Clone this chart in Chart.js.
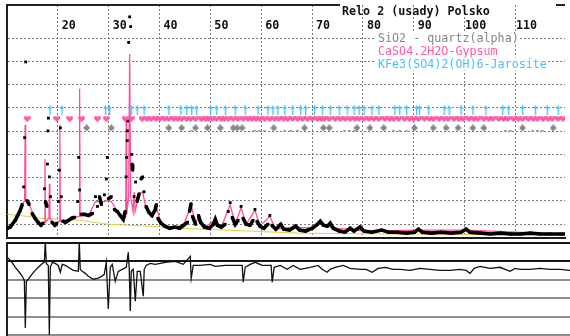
<!DOCTYPE html>
<html>
<head>
<meta charset="utf-8">
<script src="https://cdn.jsdelivr.net/npm/chart.js@4.4.1/dist/chart.umd.min.js"></script>
<style>
  html, body { margin: 0; padding: 0; background: #fff; overflow: hidden; }
  #wrap { position: relative; width: 570px; height: 336px; }
  #main { position: absolute; left: 0; top: 0; }
  #diff { position: absolute; left: 0; top: 242px; }
</style>
</head>
<body>
<div id="wrap">
  <canvas id="main" width="570" height="243"></canvas>
  <canvas id="diff" width="570" height="94"></canvas>
</div>
<script>
// ---- Rietveld fit: Relo 2 (usady) Polsko ----
const plotTitle = 'Relo 2 (usady) Polsko';
const xTickValues = [20, 30, 40, 50, 60, 70, 80, 90, 100, 110];
const intensityGrid = [600, 1600, 2600, 3600, 4600, 5600, 6600, 7600, 8600];
const diffGrid = [-4000, -3000, -2000, -1000, 0, 1000];

// observed pattern (2theta, counts)
const obsTheta = [
  10.06, 10.65, 11.04, 11.62, 12.01, 12.60, 12.99, 13.28, 13.47, 13.67,
  13.96, 14.35, 14.93, 15.52, 16.10, 16.69, 17.08, 17.37, 17.56, 17.86,
  17.95, 18.05, 18.15, 18.34, 18.54, 18.83, 19.41, 19.80, 20.10, 20.29,
  20.49, 20.68, 20.97, 21.56, 22.14, 22.73, 23.31, 23.90, 24.09, 24.28,
  24.58, 25.26, 26.04, 26.82, 27.40, 27.79, 28.18, 28.57, 29.15, 29.54,
  29.74, 29.93, 30.52, 31.10, 31.69, 32.27, 32.86, 33.25, 33.44, 33.54,
  33.64, 33.69, 33.73, 33.93, 34.12, 34.32, 34.51, 34.61, 34.71, 35.00,
  35.29, 35.58, 35.97, 36.36, 36.66, 36.95, 37.34, 37.92, 38.51, 39.09,
  39.38, 39.67, 40.26, 41.04, 42.01, 42.99, 43.96, 44.74, 45.52, 45.91,
  46.20, 46.49, 47.08, 47.66, 48.05, 48.83, 49.80, 50.58, 50.97, 51.36,
  52.14, 52.92, 53.51, 53.90, 54.29, 54.87, 55.45, 56.04, 56.43, 57.01,
  57.79, 58.38, 58.77, 59.16, 59.74, 60.52, 61.30, 61.69, 62.08, 62.86,
  63.83, 64.42, 65.58, 66.75, 67.53, 68.70, 70.06, 71.04, 71.62, 72.21,
  72.99, 73.57, 74.16, 75.33, 76.49, 77.47, 78.25, 79.42, 80.20, 81.75,
  83.70, 85.06, 86.62, 88.57, 90.13, 90.91, 91.69, 93.44, 95.39, 97.34,
  99.29, 100.26, 101.04, 103.18, 105.13, 107.08, 109.03, 110.98, 112.92, 114.87,
  116.82, 118.77, 119.74
];
const obsCounts = [
  420, 470, 590, 760, 930, 1190, 1440, 2200, 4320, 7580,
  1610, 1440, 1060, 850, 680, 550, 640, 2120, 1570, 1360,
  3180, 4610, 5160, 2630, 1780, 680, 550, 640, 1570, 2920,
  4740, 1780, 720, 680, 760, 850, 890, 1570, 3470, 2070,
  1020, 1020, 970, 1060, 1780, 1360, 1780, 1440, 1860, 2540,
  3470, 1690, 1780, 1230, 1140, 970, 800, 1140, 2630, 3470,
  4190, 4610, 5040, 8420, 9520, 9100, 3600, 3180, 2920, 1780,
  2410, 1570, 1900, 2540, 2630, 1990, 1360, 1100, 970, 1190,
  1440, 850, 640, 510, 420, 470, 420, 550, 680, 1140,
  1480, 930, 590, 970, 680, 470, 420, 590, 800, 550,
  470, 590, 1140, 1520, 890, 590, 760, 1360, 850, 590,
  550, 760, 1230, 720, 510, 420, 590, 970, 550, 380,
  590, 380, 340, 510, 340, 300, 420, 590, 720, 550,
  510, 640, 420, 300, 250, 420, 300, 470, 300, 250,
  340, 250, 250, 210, 250, 380, 250, 210, 250, 210,
  250, 380, 250, 210, 170, 210, 170, 170, 210, 170,
  170, 170, 170
];

// calculated profile
const calcTheta = [
  10.06, 11.04, 12.01, 12.99, 13.47, 13.57, 13.67, 14.35, 15.52, 16.69,
  17.37, 17.47, 17.56, 18.25, 18.34, 18.44, 19.41, 20.29, 20.39, 20.49,
  21.56, 22.73, 24.19, 24.28, 24.38, 26.04, 27.40, 28.18, 29.15, 29.74,
  30.52, 31.69, 32.86, 33.34, 33.44, 33.54, 33.93, 34.12, 34.32, 34.80,
  35.00, 35.19, 35.97, 36.66, 37.34, 38.51, 39.38, 40.26, 42.01, 44.74,
  46.20, 47.08, 47.66, 48.83, 50.97, 52.14, 53.90, 54.87, 56.04, 57.01,
  58.77, 59.74, 61.69, 62.86, 66.75, 70.06, 71.62, 74.16, 77.47, 80.20,
  90.91, 100.26, 119.74
];
const calcCounts = [
  420, 590, 930, 1440, 1610, 4870, 1610, 1440, 850, 550,
  680, 3390, 680, 850, 2330, 850, 550, 720, 4870, 720,
  680, 850, 930, 6430, 930, 970, 1570, 1570, 1570, 1610,
  1570, 1140, 800, 930, 5040, 1020, 1780, 7920, 1780, 1140,
  1990, 1140, 1900, 1990, 1270, 970, 1360, 640, 420, 550,
  1440, 590, 930, 470, 760, 470, 1440, 590, 1310, 590,
  1190, 510, 930, 380, 470, 420, 680, 420, 380, 300,
  340, 340, 170
];

// refined background
const bgTheta = [10.06, 12.60, 16.49, 24.28, 30.13, 37.92, 43.77, 57.40, 67.14, 86.62, 119.74];
const bgCounts = [1020, 970, 850, 760, 590, 510, 420, 300, 210, 170, 130];

// difference curve (calc - obs)
const diffTheta = [
  10.06, 10.84, 11.62, 12.40, 12.99, 13.38, 13.57, 13.77, 14.15, 14.54,
  15.32, 16.10, 16.88, 17.27, 17.47, 17.66, 18.05, 18.25, 18.44, 18.83,
  19.41, 20.00, 20.39, 20.78, 21.36, 21.95, 22.92, 23.90, 24.09, 24.28,
  24.67, 25.26, 25.84, 26.82, 27.60, 28.18, 28.96, 29.35, 29.74, 30.13,
  30.52, 31.10, 31.69, 32.47, 33.25, 33.64, 33.83, 34.03, 34.22, 34.61,
  35.00, 35.39, 35.97, 36.56, 36.75, 37.14, 37.92, 38.90, 39.87, 40.84,
  42.79, 44.35, 45.71, 45.91, 46.30, 47.66, 49.61, 50.58, 52.53, 54.48,
  55.84, 56.04, 56.43, 57.40, 58.38, 59.74, 61.49, 61.69, 62.08, 63.25,
  64.61, 65.78, 67.14, 69.09, 70.65, 71.43, 72.40, 72.99, 73.96, 75.52,
  76.88, 78.83, 80.00, 81.17, 82.34, 83.70, 85.26, 86.62, 88.57, 90.52,
  92.47, 94.42, 96.37, 98.31, 99.48, 100.26, 101.04, 102.21, 104.16, 106.11,
  108.05, 109.03, 110.00, 111.95, 113.90, 115.85, 117.79, 119.74
];
const diffCounts = [
  220, 0, -320, -590, -810, -1030, -3620, -1080, -970, -810,
  -540, -320, -110, -50, 1080, -110, -220, -4000, -320, -50,
  -110, -220, -590, -160, -220, -320, -490, -540, 1080, -430,
  -540, -650, -810, -970, -920, -860, -700, -50, -2590, -320,
  -160, -1080, -540, -430, -320, 490, -430, -2700, -540, -430,
  -2160, -540, -540, -1890, -430, -220, -110, -160, -110, -50,
  0, -160, 270, -920, -220, -220, -160, -270, -220, -220,
  -220, -1130, -320, -160, -50, -220, -220, -1130, -320, -220,
  -430, -220, -430, -320, -220, -430, -590, -430, -320, -220,
  -380, -430, -430, -590, -380, -320, -430, -430, -490, -380,
  -430, -490, -490, -430, -490, -650, -380, -270, -380, -320,
  -540, -380, -430, -430, -380, -430, -430, -490
];

// reflection positions of each phase (2theta)
const jarositePeaks = [
  18.44, 20.78, 29.35, 30.13, 34.42, 35.58, 36.95, 41.82, 44.16, 45.32,
  46.30, 47.27, 50.00, 51.17, 52.92, 54.87, 56.82, 59.35, 61.30, 62.27,
  63.25, 64.61, 66.17, 67.73, 68.70, 70.46, 72.01, 73.57, 75.33, 76.88,
  78.25, 79.22, 80.20, 81.75, 83.12, 86.24, 87.21, 88.57, 90.52, 91.11,
  92.86, 95.98, 96.95, 99.29, 101.62, 104.16, 107.47, 108.64, 111.37, 113.90,
  116.24, 118.38
];
const gypsumPeaks = [
  13.96, 19.80, 22.34, 24.67, 27.79, 29.54, 33.25, 34.42, 36.56, 37.53,
  38.31, 39.29, 40.06, 41.04, 41.82, 42.79, 43.57, 44.35, 45.32, 46.10,
  47.08, 48.25, 49.03, 49.61, 50.39, 51.17, 52.14, 52.73, 53.51, 54.48,
  55.45, 56.43, 57.40, 58.18, 58.96, 59.74, 60.71, 61.69, 62.66, 63.44,
  64.42, 65.19, 66.17, 67.14, 68.12, 69.09, 70.07, 71.04, 71.82, 72.40,
  73.38, 74.55, 75.52, 76.49, 77.47, 78.44, 79.22, 80.20, 81.17, 82.14,
  83.12, 84.29, 85.26, 86.04, 87.01, 88.18, 89.16, 89.94, 90.91, 92.08,
  93.05, 93.83, 95.00, 95.97, 96.75, 97.92, 98.90, 99.68, 100.85, 101.82,
  102.60, 103.77, 104.74, 105.52, 106.69, 107.66, 108.44, 109.61, 110.59, 111.36,
  112.53, 113.51, 114.29, 115.46, 116.43, 117.21, 118.38, 119.35
];
const quartzPeaks = [
  25.65, 30.52, 41.82, 44.35, 47.08, 49.42, 51.95, 54.48, 55.26, 56.23,
  62.47, 68.51, 72.21, 73.38, 78.83, 81.37, 84.09, 90.13, 93.83, 96.36,
  98.70, 101.62, 103.77, 111.37, 117.41
];
const quartzWeakPeaks = [
  46.30, 58.77, 59.74, 60.71, 64.61, 65.78, 67.14, 76.30, 77.27, 78.25,
  86.04, 87.21, 88.57, 108.05, 109.03, 113.31, 114.29, 115.26
];

const phaseNames = ['SiO2 - quartz(alpha)', 'CaSO4.2H2O-Gypsum', 'KFe3(SO4)2(OH)6-Jarosite'];
const phaseColors = ['#858585', '#ff5aa5', '#45c0ff'];
// marker row of each phase under the title block
const phaseRow = { jarosite: 0, gypsum: 1, quartz: 2 };

const pts = (xs, ys) => xs.map((x, i) => ({ x: x, y: ys[i] }));
const rowPts = (xs, row) => xs.map(x => ({ x: x, y: row }));

// small marker glyphs
function glyph(w, h, paint) {
  const c = document.createElement('canvas');
  c.width = w; c.height = h;
  paint(c.getContext('2d'));
  return c;
}
const arrowGlyph = glyph(5, 10, g => {
  g.fillStyle = phaseColors[2];
  g.beginPath(); g.moveTo(2.5, 0); g.lineTo(5, 3.5); g.lineTo(0, 3.5); g.closePath(); g.fill();
  g.fillRect(2, 3, 1.3, 7);
});
const heartGlyph = glyph(7, 6, g => {
  g.fillStyle = phaseColors[1];
  g.beginPath();
  g.arc(1.8, 1.8, 1.8, 0, Math.PI * 2);
  g.arc(5.2, 1.8, 1.8, 0, Math.PI * 2);
  g.fill();
  g.beginPath(); g.moveTo(0.05, 2.4); g.lineTo(6.95, 2.4); g.lineTo(3.5, 6); g.closePath(); g.fill();
});
const diamondGlyph = glyph(7, 7, g => {
  g.fillStyle = '#858585';
  g.beginPath(); g.moveTo(3.5, 0); g.lineTo(7, 3.5); g.lineTo(3.5, 7); g.lineTo(0, 3.5); g.closePath(); g.fill();
});
const dotGlyph = glyph(3, 3, g => {
  g.fillStyle = '#9a9a9a';
  g.fillRect(0, 1, 3, 1.5);
});

const monoFont = '"DejaVu Sans Mono", "Liberation Mono", monospace';

// frame, axis numbers, title and phase list
const frameDecor = {
  id: 'frameDecor',
  afterDraw(chart) {
    const { ctx, chartArea, scales } = chart;
    ctx.save();
    // top frame line, broken by the title
    ctx.strokeStyle = '#222';
    ctx.lineWidth = 2;
    ctx.beginPath();
    ctx.moveTo(chartArea.left - 1, chartArea.top);
    ctx.lineTo(340, chartArea.top);
    ctx.moveTo(556, chartArea.top);
    ctx.lineTo(chartArea.right, chartArea.top);
    ctx.stroke();

    ctx.fillStyle = '#111';
    ctx.font = 'bold 11.7px ' + monoFont;
    ctx.textBaseline = 'alphabetic';
    ctx.textAlign = 'left';
    ctx.fillText(plotTitle, 342, 15);

    ctx.textAlign = 'center';
    xTickValues.forEach(v => {
      ctx.fillText(String(v), scales.x.getPixelForValue(v) + 11, 28.5);
    });

    ctx.font = '11.7px ' + monoFont;
    ctx.textAlign = 'left';
    const baselines = [41.5, 55, 67.5];
    phaseNames.forEach((name, i) => {
      const w = ctx.measureText(name).width;
      ctx.fillStyle = '#fff';
      ctx.fillRect(376, baselines[i] - 10, w + 3, 13);
      ctx.fillStyle = phaseColors[i];
      ctx.fillText(name, 378, baselines[i]);
    });
    ctx.restore();
  }
};

const hiddenTicks = { display: false };
const dashedGrid = { color: '#7a7a7a', lineWidth: 1, drawTicks: false };

new Chart(document.getElementById('main'), {
  type: 'line',
  data: {
    datasets: [
      {
        label: 'Jarosite', yAxisID: 'yRows', showLine: false, order: 0,
        data: rowPts(jarositePeaks, phaseRow.jarosite),
        pointStyle: arrowGlyph, pointRadius: 4
      },
      {
        label: 'Gypsum', yAxisID: 'yRows', showLine: false, order: 0,
        data: rowPts(gypsumPeaks, phaseRow.gypsum),
        pointStyle: heartGlyph, pointRadius: 4
      },
      {
        label: 'Quartz', yAxisID: 'yRows', showLine: false, order: 0,
        data: rowPts(quartzPeaks, phaseRow.quartz),
        pointStyle: diamondGlyph, pointRadius: 4
      },
      {
        label: 'Quartz (weak)', yAxisID: 'yRows', showLine: false, order: 0,
        data: rowPts(quartzWeakPeaks, phaseRow.quartz + 0.3),
        pointStyle: dotGlyph, pointRadius: 2
      },
      {
        label: 'Observed', yAxisID: 'y', order: 1,
        data: pts(obsTheta, obsCounts),
        borderColor: '#000', borderWidth: 3.6,
        pointStyle: 'rect', pointRadius: 2,
        pointBackgroundColor: '#000', pointBorderWidth: 0,
        segment: {
          borderColor: c => Math.abs(c.p1.y - c.p0.y) > 8 ? 'rgba(0,0,0,0)' : '#000'
        }
      },
      {
        label: 'Calculated', yAxisID: 'y', order: 2,
        data: pts(calcTheta, calcCounts),
        borderColor: '#ff4f9c', borderWidth: 1.3, pointRadius: 0
      },
      {
        label: 'Background', yAxisID: 'y', order: 3,
        data: pts(bgTheta, bgCounts),
        borderColor: '#e2d040', borderWidth: 1, pointRadius: 0
      }
    ]
  },
  options: {
    responsive: false,
    animation: false,
    events: [],
    layout: { padding: { left: 7, top: 5, right: 0, bottom: 1 } },
    plugins: { legend: { display: false }, tooltip: { enabled: false } },
    scales: {
      x: {
        type: 'linear', min: 10, max: 119.74,
        afterBuildTicks: s => { s.ticks = xTickValues.map(v => ({ value: v })); },
        afterFit: s => { s.height = 0; },
        ticks: hiddenTicks,
        grid: dashedGrid,
        border: { display: true, color: '#1e1e1e', width: 2, dash: [2, 2] }
      },
      y: {
        type: 'linear', min: 0, max: 10030,
        afterBuildTicks: s => { s.ticks = intensityGrid.map(v => ({ value: v })); },
        afterFit: s => { s.width = 0; },
        ticks: hiddenTicks,
        grid: dashedGrid,
        border: { display: true, color: '#1e1e1e', width: 2, dash: [2, 2] }
      },
      yRows: {
        axis: 'y', position: 'left', type: 'linear', display: false,
        reverse: true, min: -11.89, max: 14.44
      }
    }
  },
  plugins: [frameDecor]
});

new Chart(document.getElementById('diff'), {
  type: 'line',
  data: {
    datasets: [{
      label: 'Difference',
      data: pts(diffTheta, diffCounts),
      borderColor: '#111', borderWidth: 1.3, pointRadius: 0
    }]
  },
  options: {
    responsive: false,
    animation: false,
    events: [],
    layout: { padding: { left: 7, top: 1, right: 0, bottom: 1 } },
    plugins: { legend: { display: false }, tooltip: { enabled: false } },
    scales: {
      x: {
        type: 'linear', min: 10, max: 119.74,
        afterFit: s => { s.height = 0; },
        ticks: hiddenTicks,
        grid: { display: false },
        border: { display: false }
      },
      y: {
        type: 'linear', min: -4000, max: 1000,
        afterBuildTicks: s => { s.ticks = diffGrid.map(v => ({ value: v })); },
        afterFit: s => { s.width = 0; },
        ticks: hiddenTicks,
        grid: {
          drawTicks: false,
          lineWidth: 2,
          color: c => (c.tick && (c.tick.value === 0 || c.tick.value === 1000)) ? '#151515' : '#8e8e8e'
        },
        border: { display: true, color: '#1e1e1e', width: 2 }
      }
    }
  }
});
</script>
</body>
</html>
